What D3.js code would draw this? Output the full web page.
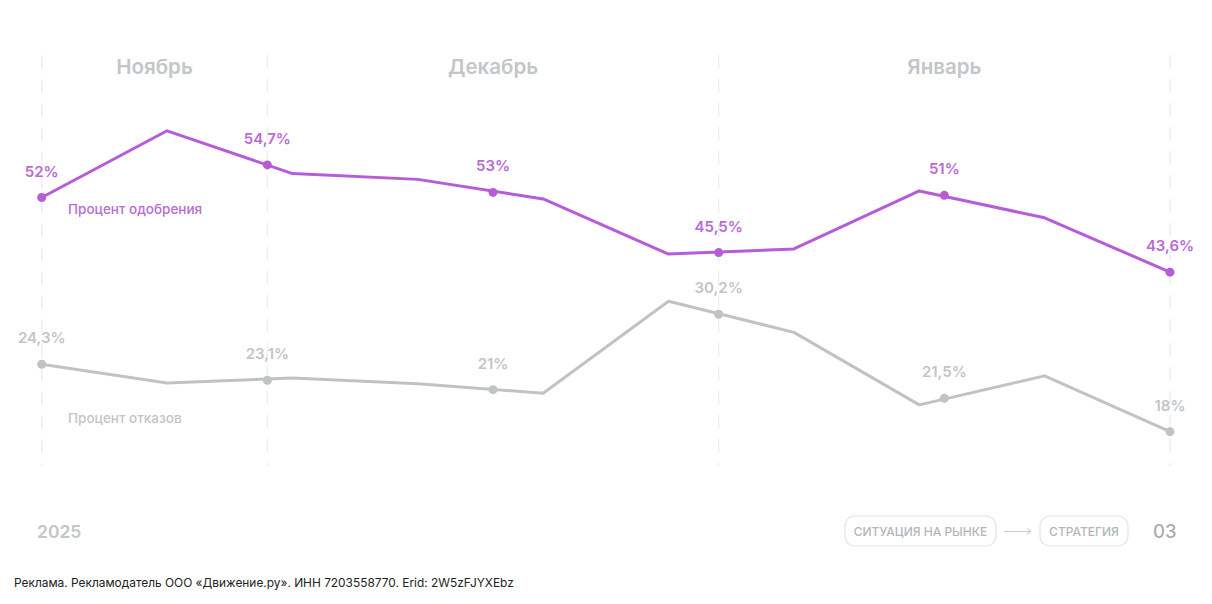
<!DOCTYPE html>
<html><head><meta charset="utf-8">
<script src="https://cdn.jsdelivr.net/npm/d3@7"></script>
<style>
html,body{margin:0;padding:0;background:#fff;}
svg{display:block;font-family:Inter, "Noto Sans", sans-serif;}
</style></head>
<body><svg id="c" width="1212" height="604"></svg>
<script>
// ---- data ----
const weeks = [0,1,2,3,4,5,6,7,8,9];
const approval = [50.0,59.2,53.3,52.5,49.8,42.2,42.9,50.9,47.2,39.7];
const rejection = [27.0,24.4,25.1,24.3,23.0,35.7,31.4,21.4,25.4,17.7];
const markerPos = [0,1.8,3.6,5.4,7.2,9];
const approvalMarkers = [50.0,54.5,50.7,42.4,50.3,39.7];
const rejectionMarkers = [27.0,24.8,23.5,33.9,22.3,17.7];
const approvalLabels = ["52%","54,7%","53%","45,5%","51%","43,6%"];
const rejectionLabels = ["24,3%","23,1%","21%","30,2%","21,5%","18%"];
const months = ["Ноябрь","Декабрь","Январь"];
const monthBounds = [0,1.8,5.4,9];
const seriesNames = ["Процент одобрения","Процент отказов"];
const yearLabel = "2025";
const pills = ["СИТУАЦИЯ НА РЫНКЕ","СТРАТЕГИЯ"];
const pageNum = "03";
const footer = "Реклама. Рекламодатель ООО «Движение.ру». ИНН 7203558770. Erid: 2W5zFJYXEbz";

const purple = "#b75cd9", purpleText = "#b86ad7";
const gray = "#bfc3c5", grayText = "#c2c5c8";

const svg = d3.select("#c");
const x = d3.scaleLinear().domain([0,9]).range([41.7,1170]);
const y = d3.scaleLinear().domain([0,60]).range([560,125]);

// dashed guides
svg.append("g").selectAll("line").data(monthBounds).join("line")
  .attr("x1",d=>x(d)).attr("x2",d=>x(d)).attr("y1",55).attr("y2",466)
  .attr("stroke","#eceef0").attr("stroke-width",1.4).attr("stroke-dasharray","14,10");

// months
svg.append("g").selectAll("text").data(months).join("text")
  .attr("x",(d,i)=>(x(monthBounds[i])+x(monthBounds[i+1]))/2).attr("y",74)
  .attr("text-anchor","middle").attr("font-size",20.5).attr("font-weight",600)
  .attr("fill","#c3c6c9").text(d=>d);

const line = d3.line().x((d,i)=>x(weeks[i])).y(d=>y(d));
function series(vals, mk, labels, col, tcol){
  svg.append("path").datum(vals).attr("d",line).attr("fill","none")
    .attr("stroke",col).attr("stroke-width",3).attr("stroke-linejoin","round").attr("stroke-linecap","round");
  svg.append("g").selectAll("circle").data(mk).join("circle")
    .attr("cx",(d,i)=>x(markerPos[i])).attr("cy",d=>y(d)).attr("r",4.5).attr("fill",col);
  svg.append("g").selectAll("text").data(labels).join("text")
    .attr("x",(d,i)=>x(markerPos[i])).attr("y",(d,i)=>y(mk[i])-21)
    .attr("text-anchor","middle").attr("font-size",15).attr("font-weight",600)
    .attr("fill",tcol).text(d=>d);
}
series(approval, approvalMarkers, approvalLabels, purple, purpleText);
series(rejection, rejectionMarkers, rejectionLabels, gray, grayText);

svg.append("text").attr("x",68).attr("y",214).attr("font-size",13.5).attr("font-weight",500)
  .attr("fill",purpleText).text(seriesNames[0]);
svg.append("text").attr("x",68).attr("y",423).attr("font-size",13.5).attr("font-weight",500)
  .attr("fill",grayText).text(seriesNames[1]);

// bottom
svg.append("text").attr("x",37).attr("y",538).attr("font-size",17.5).attr("font-weight",600)
  .attr("fill","#c3c6c9").text(yearLabel);
const pillX = [845,1040], pillW = [151,88];
pills.forEach((p,i)=>{
  svg.append("rect").attr("x",pillX[i]).attr("y",516).attr("width",pillW[i]).attr("height",30)
    .attr("rx",10).attr("fill","none").attr("stroke","#e2e4e6").attr("stroke-width",1.2);
  svg.append("text").attr("x",pillX[i]+pillW[i]/2).attr("y",535.5).attr("text-anchor","middle")
    .attr("font-size",12).attr("font-weight",500).attr("fill","#b3b6b9").text(p);
});
svg.append("line").attr("x1",1004).attr("x2",1031).attr("y1",531.5).attr("y2",531.5)
  .attr("stroke","#c9ccce").attr("stroke-width",1);
svg.append("path").attr("d","M1027,528.5 L1031,531.5 L1027,534.5").attr("fill","none")
  .attr("stroke","#c9ccce").attr("stroke-width",1);
svg.append("text").attr("x",1153).attr("y",538).attr("font-size",18.5).attr("font-weight",500)
  .attr("fill","#a9adb0").text(pageNum);
svg.append("text").attr("x",14).attr("y",587).attr("font-size",11.9).attr("font-weight",400)
  .attr("fill","#222").text(footer);
</script></body></html>
